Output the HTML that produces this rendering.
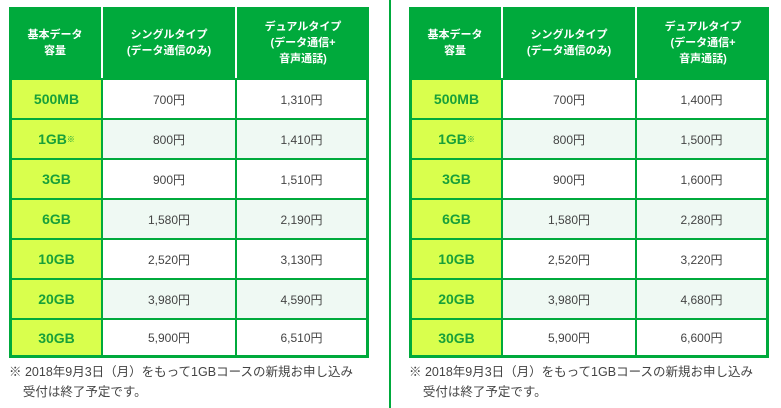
<!DOCTYPE html>
<html><head><meta charset="utf-8"><style>
body{margin:0;width:781px;height:408px;background:#fff;position:relative;overflow:hidden;font-family:"Liberation Sans","Noto Sans CJK JP",sans-serif}
.tbl{position:absolute;top:7px;width:360px;height:351px;background:#00aa3c}
.c{position:absolute;display:flex;align-items:center;justify-content:center;text-align:center;box-sizing:border-box}
.h{color:#fff;font-weight:bold;font-size:11px;line-height:16px;background:#00aa3c}
.sep{position:absolute;top:0;width:2px;height:71px;background:#fff}
.k{background:#d9ff4d;color:#18a03a;font-weight:bold;font-size:14px}
.v{color:#444;font-size:12px}
.note{position:absolute;top:362px;font-size:12.5px;color:#444;line-height:20px;white-space:nowrap}
.divider{position:absolute;left:389px;top:0;width:2px;height:408px;background:#00aa3c}
</style></head><body>
<div class="divider"></div>
<script>
const sizes=["500MB","1GB","3GB","6GB","10GB","20GB","30GB"];
const single=["700円","800円","900円","1,580円","2,520円","3,980円","5,900円"];
const dualA=["1,310円","1,410円","1,510円","2,190円","3,130円","4,590円","6,510円"];
const dualB=["1,400円","1,500円","1,600円","2,280円","3,220円","4,680円","6,600円"];
function build(left,dual,name){
  const t=document.createElement('div');
  
  
  t.className='tbl';t.style.left=left+'px';
  const heads=[["基本データ<br>容量",0,92],["シングルタイプ<br>(データ通信のみ)",94,132],["デュアルタイプ<br>(データ通信+<br>音声通話)",228,132]];
  heads.forEach((h,i)=>{
    const d=document.createElement('div');
    
    
    d.className='c h';d.innerHTML=h[0];
    d.style.cssText+=`left:${h[1]}px;top:0;width:${h[2]}px;height:71px`;
    t.appendChild(d);
  });
  [92,226].forEach(x=>{const s=document.createElement('div');s.className='sep';s.style.left=x+'px';t.appendChild(s);});
  sizes.forEach((sz,i)=>{
    const y=71+i*40, bg=i%2?'#eff9f3':'#fff';
    const cells=[[sz.replace('1GB','1GB<sup style="font-size:8px">※</sup>'),3,89,'k'],[single[i],94,132,'v'],[dual[i],228,129,'v']];
    cells.forEach((c,j)=>{
      const d=document.createElement('div');
      
      
      d.className='c '+c[3];d.innerHTML=c[0];
      d.style.cssText+=`left:${c[1]}px;top:${y+2}px;width:${c[2]}px;height:${i==6?35:38}px`+(j?`;background:${bg}`:'');
      t.appendChild(d);
    });
  });
  document.body.appendChild(t);
  const n=document.createElement('div');
  
  
  n.className='note';n.style.left=(left)+'px';
  n.innerHTML='※ 2018年9月3日（月）をもって1GBコースの新規お申し込み<br>&nbsp;&nbsp;&nbsp;&nbsp;受付は終了予定です。';
  document.body.appendChild(n);
}
build(9,dualA,'price-table-left');
build(409,dualB,'price-table-right');
</script>
</body></html>
